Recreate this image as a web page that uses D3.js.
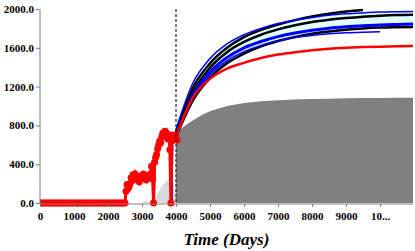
<!DOCTYPE html>
<html>
<head>
<meta charset="utf-8">
<script src="https://cdn.jsdelivr.net/npm/d3@7"></script>
<style>
  body { margin:0; background:#fff; }
  svg text { font-family:"Liberation Serif","Times New Roman",Times,"DejaVu Serif",serif; }
  .tk text { font-weight:bold; font-size:11px; fill:#000; }
</style>
</head>
<body>
<svg id="chart" width="415" height="251"></svg>
<script>
// observed data (red dots)
const obsDays=[0,50,100,150,200,250,300,350,400,450,500,550,600,650,700,750,800,850,900,950,1000,1050,1100,1150,1200,1250,1300,1350,1400,1450,1500,1550,1600,1650,1700,1750,1800,1850,1900,1950,2000,2050,2100,2150,2200,2250,2300,2350,2400,2450,2500,
  2530,2560,2590,2620,2650,2680,2710,2740,2770,2800,2830,2860,2890,2920,2950,2980,3010,3040,3070,3100,3130,3160,3190,3220,3250,3280,3310,3340,3370,3400,3430,3460,3490,3520,3550,3580,3610,3640,3670,3700,3730,3760,3790,3820,3850,3880,3910,3940,3970,4000,4030]
const obsVals=[0,0,0,0,0,0,0,0,0,0,0,0,0,0,0,0,0,0,0,0,0,0,0,0,0,0,0,0,0,0,0,0,0,0,0,0,0,0,0,0,0,0,0,0,0,0,0,0,0,0,0,
  120,190,150,170,200,260,230,290,250,300,270,240,260,220,250,280,260,300,250,280,240,270,260,290,300,380,250,0,420,470,500,560,600,640,620,680,720,700,740,690,720,660,700,550,0,640,700,660,690,680,650]

// model projections
const modDays=[4000,4500,5000,5500,6000,6500,7000,7500,8000,8500,9000,9500,10000,10500,11000]
const redFit  =[690,1090,1280,1385,1445,1495,1530,1555,1575,1590,1600,1607,1612,1616,1618]
const blueTop =[760,1240,1490,1640,1735,1800,1850,1885,1912,1935,1950,1960,1968,1972,1975]
const blackTop=[730,1190,1440,1600,1710,1785,1840,1885,1922,1952,1975,1990]
const black2  =[710,1140,1395,1555,1660,1735,1790,1832,1865,1888,1906,1920,1930,1937,1940]
const blueMid =[700,1110,1350,1500,1600,1665,1715,1752,1780,1802,1817,1828,1836,1841,1845]
const blackLow=[680,1060,1290,1440,1540,1615,1670,1712,1745,1768,1787,1800,1808,1812,1815]
const blueLow =[690,1080,1320,1465,1560,1625,1672,1705,1728,1744,1755,1761,1765]

// blue refit drops
const dropDays=[3330,3360,3390,3860,3885,3910]
const dropVals=[400,0,420,690,0,680]

// gray areas
const grayDays=[3990,4000,4200,4400,4600,4800,5000,5200,5500,6000,6500,7000,7650,8000,8500,9000,9500,10000,10500,10970]
const grayVals=[0,720,780,830,875,915,945,970,1000,1030,1050,1060,1070,1072,1075,1080,1082,1083,1084,1085]
const lgDays=[3000,3100,3200,3300,3400,3500,3600,3700,3800,3900,3990]
const lgVals=[0,20,10,40,60,120,180,220,260,300,0]

const xTicks=[0,1000,2000,3000,4000,5000,6000,7000,8000,9000,10000]
const yTicks=[0,400,800,1200,1600,2000]

const svg=d3.select("#chart")
const x=d3.scaleLinear().domain([0,10970]).range([40,413])
const y=d3.scaleLinear().domain([0,2000]).range([203,9])

svg.append("defs").append("clipPath").attr("id","clip")
  .append("rect").attr("x",40).attr("y",0).attr("width",373).attr("height",208)
const g=svg.append("g").attr("clip-path","url(#clip)")

const zip=(ds,vs)=>ds.slice(0,vs.length).map((d,i)=>[d,vs[i]])
const area=d3.area().x(d=>x(d[0])).y0(y(0)).y1(d=>y(d[1]))
const line=d3.line().x(d=>x(d[0])).y(d=>y(d[1])).curve(d3.curveMonotoneX)
const poly=d3.line().x(d=>x(d[0])).y(d=>y(d[1]))

g.append("path").attr("d",area(zip(lgDays,lgVals))).attr("fill","#d9d9d9")
g.append("path").attr("d",area(zip(grayDays,grayVals))).attr("fill","#808080")

// uncertainty band
const band=d3.area().x((d,i)=>x(modDays[i])).y0(d=>y(d[0])).y1(d=>y(d[1])).curve(d3.curveMonotoneX)
g.append("path").attr("d",band(blueTop.map((v,i)=>[blackLow[i],v]))).attr("fill","#e0ffff")

g.append("path").attr("d",poly(zip(dropDays.slice(0,3),dropVals.slice(0,3))))
  .attr("fill","none").attr("stroke","#0000ff").attr("stroke-width",1)
g.append("path").attr("d",poly(zip(dropDays.slice(3),dropVals.slice(3))))
  .attr("fill","none").attr("stroke","#0000ff").attr("stroke-width",1)

const curves=[
  [blackLow,"#000",2.5],
  [blueLow,"#0000ff",1.5],
  [black2,"#000",2.5],
  [blueMid,"#0000ff",3],
  [blackTop,"#000",2.5],
  [blueTop,"#0000ff",1.5],
  [redFit,"#ff0000",2.5]
]
curves.forEach(c=>{
  g.append("path").attr("d",line(zip(modDays,c[0])))
    .attr("fill","none").attr("stroke",c[1]).attr("stroke-width",c[2])
})

// observed
const obs=zip(obsDays,obsVals)
g.append("path").attr("d",poly(obs))
  .attr("fill","none").attr("stroke","#ff0000").attr("stroke-width",3)
g.selectAll("circle").data(obs).join("circle")
  .attr("cx",d=>x(d[0])).attr("cy",d=>y(d[1])).attr("r",3.5).attr("fill","#ff0000")

// forecast start
svg.append("line").attr("x1",x(4000)).attr("x2",x(4000)).attr("y1",y(2000)).attr("y2",y(0))
  .attr("stroke","#000").attr("stroke-width",1).attr("stroke-dasharray","3,2")

// axes
const xa=svg.append("g").attr("class","tk").attr("transform","translate(0,204)")
  .call(d3.axisBottom(x).tickValues(xTicks).tickSize(3).tickPadding(5)
    .tickFormat(d=>d==10000?"10...":d))
const ya=svg.append("g").attr("class","tk").attr("transform","translate(40,0)")
  .call(d3.axisLeft(y).tickValues(yTicks).tickSize(4).tickPadding(2).tickFormat(d3.format(".1f")))
svg.selectAll(".tk").attr("font-family",null).attr("font-size",null)
svg.selectAll(".tk path,.tk line").attr("stroke","#808080")
xa.select(".domain").attr("d","M40,0H413")
ya.select(".domain").attr("d","M0,"+y(2000)+"V"+(y(0)+1))

svg.append("text").attr("x",226.5).attr("y",245).attr("text-anchor","middle")
  .attr("font-weight","bold").attr("font-style","italic").attr("font-size",17).text("Time (Days)")
</script>
</body>
</html>
